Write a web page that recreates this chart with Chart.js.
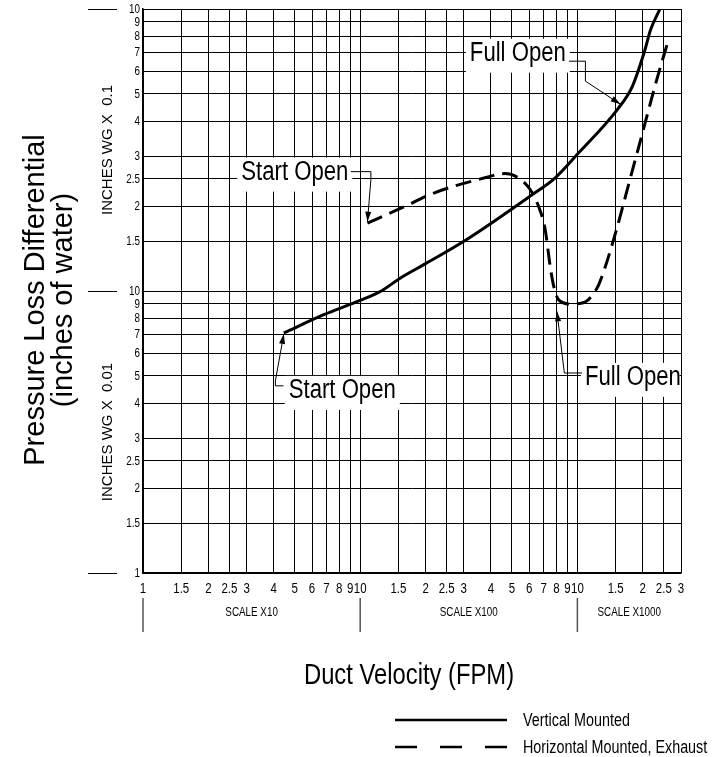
<!DOCTYPE html>
<html>
<head>
<meta charset="utf-8">
<script src="https://cdn.jsdelivr.net/npm/chart.js@4.4.1/dist/chart.umd.min.js"></script>
<style>
  html, body { margin: 0; padding: 0; background: #fff; }
</style>
</head>
<body>
<canvas id="myChart" width="726" height="757"></canvas>
<script>
// duct velocity (FPM) against pressure loss (inches of water)
const verticalFpm = [44.5, 68, 100, 125, 154, 200, 308, 606, 791, 1014, 1527, 1792, 2029, 2177, 2400];
const verticalLoss = [0.071, 0.0824, 0.0926, 0.1, 0.1115, 0.125, 0.152, 0.217, 0.252, 0.309, 0.44, 0.532, 0.70, 0.847, 1.0];

const horizontalFpm = [108, 155, 220, 375, 464, 535, 606, 662, 711, 750, 778, 820, 929, 1052, 1234, 1300, 1500, 1730, 1995, 2298, 2602];
const horizontalLoss = [0.174, 0.197, 0.223, 0.252, 0.261, 0.252, 0.229, 0.200, 0.165, 0.122, 0.104, 0.093, 0.090, 0.0906, 0.1026, 0.113, 0.161, 0.242, 0.364, 0.547, 0.759];

const xTicks = [10, 15, 20, 25, 30, 40, 50, 60, 70, 80, 90, 100, 150, 200, 250, 300, 400, 500, 600, 700, 800, 900, 1000, 1500, 2000, 2500, 3000];
const xTickLabels = ["1", "1.5", "2", "2.5", "3", "4", "5", "6", "7", "8", "9", "10", "1.5", "2", "2.5", "3", "4", "5", "6", "7", "8", "9", "10", "1.5", "2", "2.5", "3"];
const yTicks = [0.01, 0.015, 0.02, 0.025, 0.03, 0.04, 0.05, 0.06, 0.07, 0.08, 0.09, 0.1, 0.15, 0.2, 0.25, 0.3, 0.4, 0.5, 0.6, 0.7, 0.8, 0.9, 1];
const yTickLabels = ["1", "1.5", "2", "2.5", "3", "4", "5", "6", "7", "8", "9", "10", "1.5", "2", "2.5", "3", "4", "5", "6", "7", "8", "9", "10"];

const scaleBands = ["SCALE X10", "SCALE X100", "SCALE X1000"];
const scaleEdges = [10, 100, 1000, 3000];
const decadeLabels = ["INCHES WG X  0.01", "INCHES WG X  0.1"];
const decadeEdges = [0.01, 0.1, 1];

// callouts: text centre, then leader path ending on the arrow tip (fpm, inches)
const callouts = [
  { text: "Start Open", at: [50, 0.265], path: [[90.6, 0.265], [112, 0.265], [112, 0.248], [108, 0.176]] },
  { text: "Full Open", at: [532, 0.70], path: [[915, 0.653], [1089, 0.653], [1089, 0.555], [1581, 0.459]] },
  { text: "Start Open", at: [82.7, 0.0446], path: [[44.35, 0.0461], [40.7, 0.0461], [40.7, 0.048], [44.5, 0.0705]] },
  { text: "Full Open", at: [1801, 0.0496], path: [[1051, 0.0512], [871, 0.0512], [805, 0.0847]] }
];

// no narrow face installed, so squeeze the regular one
const family = "'Liberation Sans', Arial, sans-serif";
const squeeze = 0.82;

function narrowText(ctx, text, x, y, size, align) {
  ctx.save();
  ctx.font = size + "px " + family;
  ctx.textAlign = align || "center";
  ctx.translate(x, y);
  ctx.scale(squeeze, 1);
  ctx.fillText(text, 0, 0);
  ctx.restore();
}

function narrowWidth(ctx, text, size) {
  ctx.save();
  ctx.font = size + "px " + family;
  const w = ctx.measureText(text).width * squeeze;
  ctx.restore();
  return w;
}

function arrowHead(ctx, x0, y0, x1, y1) {
  const a = Math.atan2(y1 - y0, x1 - x0);
  const len = 10, half = 3;
  ctx.beginPath();
  ctx.moveTo(x1, y1);
  ctx.lineTo(x1 - len * Math.cos(a) + half * Math.sin(a), y1 - len * Math.sin(a) - half * Math.cos(a));
  ctx.lineTo(x1 - len * Math.cos(a) - half * Math.sin(a), y1 - len * Math.sin(a) + half * Math.cos(a));
  ctx.closePath();
  ctx.fill();
}

const chartDecor = {
  id: "chartDecor",
  beforeDatasetsDraw(chart) {
    const { ctx, chartArea, scales: { x, y } } = chart;
    ctx.save();
    ctx.fillStyle = "#fff";
    callouts.forEach(c => {
      const cx = x.getPixelForValue(c.at[0]);
      const cy = y.getPixelForValue(c.at[1]);
      const w = narrowWidth(ctx, c.text, 27) + 8;
      const l = cx - w / 2;
      const r = Math.min(cx + w / 2, chartArea.right - 1.5);
      ctx.fillRect(l, cy - 14, r - l, 34);
    });
    ctx.restore();
  },
  afterDatasetsDraw(chart) {
    const { ctx, scales: { x, y } } = chart;
    ctx.save();
    ctx.fillStyle = "#000";
    ctx.strokeStyle = "#000";
    ctx.textBaseline = "middle";

    // tick labels from the library's own ticks
    x.ticks.forEach((t, i) => narrowText(ctx, xTickLabels[i], x.getPixelForValue(t.value), 589, 14));
    y.ticks.forEach((t, i) => narrowText(ctx, yTickLabels[i], 140, y.getPixelForValue(t.value) + 0.5, 12, "right"));

    // callout texts and leaders
    ctx.lineWidth = 1;
    callouts.forEach(c => {
      narrowText(ctx, c.text, x.getPixelForValue(c.at[0]), y.getPixelForValue(c.at[1]) + 1, 27);
      const pts = c.path.map(p => [x.getPixelForValue(p[0]), y.getPixelForValue(p[1])]);
      ctx.beginPath();
      pts.forEach((p, i) => (i ? ctx.lineTo(p[0], p[1]) : ctx.moveTo(p[0], p[1])));
      ctx.stroke();
      const n = pts.length;
      arrowHead(ctx, pts[n - 2][0], pts[n - 2][1], pts[n - 1][0], pts[n - 1][1]);
    });

    // decade marks and labels on the left
    decadeEdges.forEach(v => {
      const py = Math.round(y.getPixelForValue(v)) + 0.5;
      ctx.beginPath();
      ctx.moveTo(88, py);
      ctx.lineTo(117, py);
      ctx.stroke();
    });
    ctx.font = "15px " + family;
    ctx.textAlign = "center";
    decadeLabels.forEach((t, i) => {
      const py = (y.getPixelForValue(decadeEdges[i]) + y.getPixelForValue(decadeEdges[i + 1])) / 2;
      ctx.save();
      ctx.translate(108, py);
      ctx.rotate(-Math.PI / 2);
      ctx.fillText(t, 0, 0);
      ctx.restore();
    });

    // main y title
    ctx.font = "29px " + family;
    ctx.textBaseline = "alphabetic";
    ctx.save();
    ctx.translate(0, 300);
    ctx.rotate(-Math.PI / 2);
    ctx.fillText("Pressure Loss Differential", 0, 44);
    ctx.fillText("(inches of water)", 0, 72);
    ctx.restore();

    // x title
    narrowText(ctx, "Duct Velocity (FPM)", 409, 684, 29);

    // scale bands under the axis
    ctx.lineWidth = 1.5;
    ctx.strokeStyle = "#555";
    scaleEdges.slice(0, 3).forEach(v => {
      const px = x.getPixelForValue(v);
      ctx.beginPath();
      ctx.moveTo(px, 598);
      ctx.lineTo(px, 632);
      ctx.stroke();
    });
    ctx.textBaseline = "middle";
    scaleBands.forEach((t, i) => {
      const px = (x.getPixelForValue(scaleEdges[i]) + x.getPixelForValue(scaleEdges[i + 1])) / 2;
      narrowText(ctx, t, px, 613, 12);
    });

    // legend
    ctx.strokeStyle = "#000";
    ctx.lineWidth = 2.5;
    ctx.beginPath();
    ctx.moveTo(395, 720);
    ctx.lineTo(507, 720);
    ctx.stroke();
    ctx.setLineDash([22, 23]);
    ctx.beginPath();
    ctx.moveTo(395, 747);
    ctx.lineTo(507, 747);
    ctx.stroke();
    ctx.setLineDash([]);
    narrowText(ctx, "Vertical Mounted", 523, 721, 17.5, "left");
    narrowText(ctx, "Horizontal Mounted, Exhaust", 523, 748, 17.5, "left");
    ctx.restore();
  }
};

const config = {
  type: "line",
  data: {
    datasets: [
      {
        label: "Vertical Mounted",
        data: verticalFpm.map((v, i) => ({ x: v, y: verticalLoss[i] })),
        borderColor: "#000",
        borderWidth: 3,
        pointRadius: 0,
        cubicInterpolationMode: "monotone",
        fill: false
      },
      {
        label: "Horizontal Mounted, Exhaust",
        data: horizontalFpm.map((v, i) => ({ x: v, y: horizontalLoss[i] })),
        borderColor: "#000",
        borderWidth: 3,
        borderDash: [16, 8],
        pointRadius: 0,
        cubicInterpolationMode: "monotone",
        fill: false
      }
    ]
  },
  options: {
    responsive: false,
    animation: false,
    layout: { padding: { top: 9, right: 45, left: 0, bottom: 0 } },
    plugins: { legend: { display: false }, tooltip: { enabled: false } },
    scales: {
      x: {
        type: "logarithmic",
        min: 10,
        max: 3000,
        afterFit: s => { s.height = 184; },
        afterBuildTicks: s => { s.ticks = xTicks.map(v => ({ value: v })); },
        grid: { color: "#000", lineWidth: 1, drawTicks: false },
        border: { color: "#000", width: 1.5 },
        ticks: { display: false, autoSkip: false }
      },
      y: {
        type: "logarithmic",
        min: 0.01,
        max: 1,
        afterFit: s => { s.width = 143; },
        afterBuildTicks: s => { s.ticks = yTicks.map(v => ({ value: v })); },
        grid: { color: "#000", lineWidth: 1, drawTicks: false },
        border: { color: "#000", width: 1.5 },
        ticks: { display: false, autoSkip: false }
      }
    }
  },
  plugins: [chartDecor]
};

const myChart = new Chart(document.getElementById("myChart"), config);
</script>
</body>
</html>
